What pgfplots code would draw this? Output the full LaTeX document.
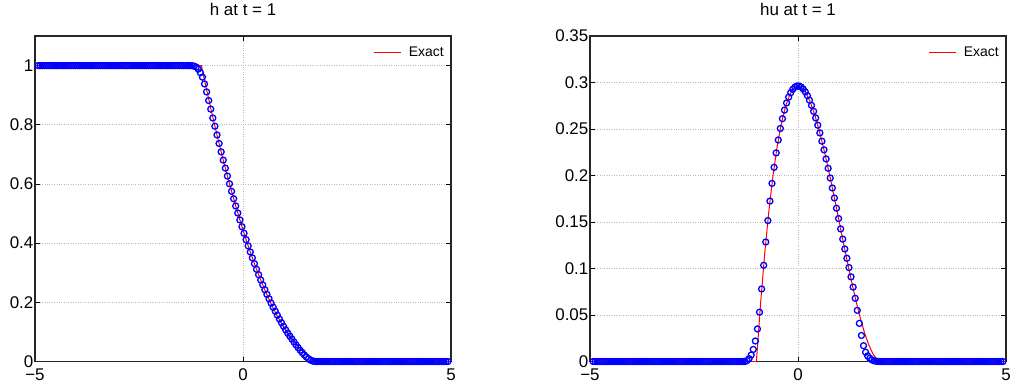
\documentclass[border=0pt]{standalone}
\usepackage{pgfplots}
\pgfplotsset{compat=1.18}
\usepackage{fontspec}
\setmainfont{Liberation Sans}

\pgfplotsset{
 myax/.style={
  scale only axis, width=416bp, height=325.5bp,
  anchor=south west,
  xmin=-5,xmax=5,ymin=0,
  xtick={-5,0,5}, xticklabels={−5,0,5},
  tick align=inside, major tick length=5bp,
  tick style={black, line width=0.6bp},
  axis line style={black!85, line width=1.2bp},
  grid=major, major grid style={gray!55, dotted, line width=0.8bp},
  ticklabel style={font=\fontsize{17}{20}\selectfont},
  xticklabel style={yshift=-4bp},
  yticklabel style={inner xsep=1.5bp},
  title style={at={(0.5,1)}, anchor=base, yshift=14.3bp, inner sep=0pt, font=\fontsize{17}{20}\selectfont},
  legend style={at={(1,1)}, anchor=north east, xshift=-7bp, yshift=-11bp, draw=none, fill=none,
     font=\fontsize{14}{16}\selectfont, inner sep=0pt, column sep=7bp, nodes={inner sep=0pt}},
  legend image code/.code={\draw[##1] (0bp,0bp) -- (27bp,0bp);},
 },
 numer/.style={only marks, mark=o, mark size=3bp, color=blue, mark options={line width=1.3bp}, forget plot},
 exact/.style={color=red, line width=1bp, no markers},
}

\begin{document}
\begin{tikzpicture}
\useasboundingbox (0bp,0bp) rectangle (1016bp,390bp);
% ---------------- h ----------------
\begin{axis}[myax, at={(35bp,28.5bp)}, ymax=1.1,
  ytick={0,0.2,0.4,0.6,0.8,1}, yticklabels={0,0.2,0.4,0.6,0.8,1},
  title={h at t = 1}]
\addplot[numer] coordinates {
(-4.925,1)(-4.875,1)(-4.825,1)(-4.775,1)(-4.725,1)(-4.675,1)(-4.625,1)(-4.575,1)(-4.525,1)(-4.475,1)
(-4.425,1)(-4.375,1)(-4.325,1)(-4.275,1)(-4.225,1)(-4.175,1)(-4.125,1)(-4.075,1)(-4.025,1)(-3.975,1)
(-3.925,1)(-3.875,1)(-3.825,1)(-3.775,1)(-3.725,1)(-3.675,1)(-3.625,1)(-3.575,1)(-3.525,1)(-3.475,1)
(-3.425,1)(-3.375,1)(-3.325,1)(-3.275,1)(-3.225,1)(-3.175,1)(-3.125,1)(-3.075,1)(-3.025,1)(-2.975,1)
(-2.925,1)(-2.875,1)(-2.825,1)(-2.775,1)(-2.725,1)(-2.675,1)(-2.625,1)(-2.575,1)(-2.525,1)(-2.475,1)
(-2.425,1)(-2.375,1)(-2.325,1)(-2.275,1)(-2.225,1)(-2.175,1)(-2.125,1)(-2.075,1)(-2.025,1)(-1.975,1)
(-1.925,1)(-1.875,1)(-1.825,1)(-1.775,1)(-1.725,1)(-1.675,1)(-1.625,1)(-1.575,1)(-1.525,1)(-1.475,1)
(-1.425,1)(-1.375,1)(-1.325,1)
(-1.275,0.9999)(-1.225,0.9995)(-1.175,0.998)(-1.125,0.995)(-1.075,0.988)(-1.025,0.976)
(-0.975,0.961)(-0.925,0.938)(-0.875,0.911)(-0.825,0.882)(-0.775,0.853)(-0.725,0.823)
(-0.675,0.7951)(-0.625,0.7656)(-0.575,0.7367)(-0.525,0.7084)(-0.475,0.6806)(-0.425,0.6534)
(-0.375,0.6267)(-0.325,0.6006)(-0.275,0.5751)(-0.225,0.5501)(-0.175,0.5256)(-0.125,0.5017)
(-0.075,0.4784)(-0.025,0.4556)(0.025,0.4334)(0.075,0.4117)(0.125,0.3906)(0.175,0.3701)
(0.225,0.3501)(0.275,0.3306)(0.325,0.3117)(0.375,0.2934)(0.425,0.2757)(0.475,0.2588)
(0.525,0.2425)(0.575,0.2270)(0.625,0.2120)(0.675,0.1975)(0.725,0.1835)(0.775,0.1700)
(0.825,0.1565)(0.875,0.1435)(0.925,0.131)(0.975,0.119)(1.025,0.107)(1.075,0.096)
(1.125,0.086)(1.175,0.076)(1.225,0.066)(1.275,0.056)(1.325,0.047)(1.375,0.038)
(1.425,0.030)(1.475,0.022)(1.525,0.015)(1.575,0.009)(1.625,0.0045)(1.675,0.0015)
(1.725,0.0004)(1.775,0.0001)
(1.825,0)(1.875,0)(1.925,0)(1.975,0)
(2.025,0)(2.075,0)(2.125,0)(2.175,0)(2.225,0)(2.275,0)(2.325,0)(2.375,0)(2.425,0)(2.475,0)
(2.525,0)(2.575,0)(2.625,0)(2.675,0)(2.725,0)(2.775,0)(2.825,0)(2.875,0)(2.925,0)(2.975,0)
(3.025,0)(3.075,0)(3.125,0)(3.175,0)(3.225,0)(3.275,0)(3.325,0)(3.375,0)(3.425,0)(3.475,0)
(3.525,0)(3.575,0)(3.625,0)(3.675,0)(3.725,0)(3.775,0)(3.825,0)(3.875,0)(3.925,0)(3.975,0)
(4.025,0)(4.075,0)(4.125,0)(4.175,0)(4.225,0)(4.275,0)(4.325,0)(4.375,0)(4.425,0)(4.475,0)
(4.525,0)(4.575,0)(4.625,0)(4.675,0)(4.725,0)(4.775,0)(4.825,0)(4.875,0)(4.925,0)
};
\addplot[exact] coordinates {
(-5,1)(-1,1)(-0.9,0.93444)(-0.8,0.87111)(-0.7,0.81)(-0.6,0.75111)(-0.5,0.69444)
(-0.4,0.64)(-0.3,0.58778)(-0.2,0.53778)(-0.1,0.49)(0,0.44444)(0.1,0.40111)(0.2,0.36)
(0.3,0.32111)(0.4,0.28444)(0.5,0.25)(0.6,0.21778)(0.7,0.18778)(0.8,0.16)(0.9,0.13444)
(1,0.11111)(1.1,0.09)(1.2,0.07111)(1.3,0.05444)(1.4,0.04)(1.5,0.02778)(1.6,0.01778)
(1.7,0.01)(1.8,0.00444)(1.9,0.00111)(2,0)(5,0)
};
\addlegendentry{Exact}
\end{axis}
% ---------------- hu ----------------
\begin{axis}[myax, at={(590bp,28.5bp)}, ymax=0.35,
  ytick={0,0.05,0.1,0.15,0.2,0.25,0.3,0.35},
  yticklabels={0,0.05,0.1,0.15,0.2,0.25,0.3,0.35},
  title={hu at t = 1}]
\addplot[numer] coordinates {
(-4.925,0)(-4.875,0)(-4.825,0)(-4.775,0)(-4.725,0)(-4.675,0)(-4.625,0)(-4.575,0)(-4.525,0)(-4.475,0)
(-4.425,0)(-4.375,0)(-4.325,0)(-4.275,0)(-4.225,0)(-4.175,0)(-4.125,0)(-4.075,0)(-4.025,0)(-3.975,0)
(-3.925,0)(-3.875,0)(-3.825,0)(-3.775,0)(-3.725,0)(-3.675,0)(-3.625,0)(-3.575,0)(-3.525,0)(-3.475,0)
(-3.425,0)(-3.375,0)(-3.325,0)(-3.275,0)(-3.225,0)(-3.175,0)(-3.125,0)(-3.075,0)(-3.025,0)(-2.975,0)
(-2.925,0)(-2.875,0)(-2.825,0)(-2.775,0)(-2.725,0)(-2.675,0)(-2.625,0)(-2.575,0)(-2.525,0)(-2.475,0)
(-2.425,0)(-2.375,0)(-2.325,0)(-2.275,0)(-2.225,0)(-2.175,0)(-2.125,0)(-2.075,0)(-2.025,0)(-1.975,0)
(-1.925,0)(-1.875,0)(-1.825,0)(-1.775,0)(-1.725,0)(-1.675,0)(-1.625,0)(-1.575,0)(-1.525,0)(-1.475,0)
(-1.425,0)(-1.375,0)(-1.325,0)(-1.275,0)
(-1.225,0.001)(-1.175,0.003)(-1.125,0.007)(-1.075,0.013)(-1.025,0.022)(-0.975,0.035)
(-0.925,0.053)(-0.875,0.078)(-0.825,0.1035)(-0.775,0.1285)(-0.725,0.1515)(-0.675,0.1725)
(-0.625,0.1915)(-0.575,0.2088)(-0.525,0.2243)(-0.475,0.2382)(-0.425,0.2505)(-0.375,0.2611)
(-0.325,0.2703)(-0.275,0.2780)(-0.225,0.2842)(-0.175,0.2891)(-0.125,0.2927)(-0.075,0.2950)
(-0.025,0.2962)(0.025,0.2962)(0.075,0.2951)(0.125,0.2930)(0.175,0.2899)(0.225,0.2859)
(0.275,0.2810)(0.325,0.2754)(0.375,0.2690)(0.425,0.2619)(0.475,0.2541)(0.525,0.2458)
(0.575,0.2369)(0.625,0.2276)(0.675,0.2178)(0.725,0.2077)(0.775,0.1973)(0.825,0.1866)
(0.875,0.1758)(0.925,0.1648)(0.975,0.1537)(1.025,0.1426)(1.075,0.1316)(1.125,0.121)
(1.175,0.111)(1.225,0.101)(1.275,0.091)(1.325,0.080)(1.375,0.068)(1.425,0.055)
(1.475,0.041)(1.525,0.028)(1.575,0.017)(1.625,0.010)(1.675,0.006)(1.725,0.0035)
(1.775,0.0018)(1.825,0.0008)(1.875,0.0003)(1.925,0.0001)
(1.975,0)
(2.025,0)(2.075,0)(2.125,0)(2.175,0)(2.225,0)(2.275,0)(2.325,0)(2.375,0)(2.425,0)(2.475,0)
(2.525,0)(2.575,0)(2.625,0)(2.675,0)(2.725,0)(2.775,0)(2.825,0)(2.875,0)(2.925,0)(2.975,0)
(3.025,0)(3.075,0)(3.125,0)(3.175,0)(3.225,0)(3.275,0)(3.325,0)(3.375,0)(3.425,0)(3.475,0)
(3.525,0)(3.575,0)(3.625,0)(3.675,0)(3.725,0)(3.775,0)(3.825,0)(3.875,0)(3.925,0)(3.975,0)
(4.025,0)(4.075,0)(4.125,0)(4.175,0)(4.225,0)(4.275,0)(4.325,0)(4.375,0)(4.425,0)(4.475,0)
(4.525,0)(4.575,0)(4.625,0)(4.675,0)(4.725,0)(4.775,0)(4.825,0)(4.875,0)(4.925,0)
};
\addplot[exact] coordinates {
(-5,0)(-1,0)(-0.9,0.062296)(-0.8,0.116148)(-0.7,0.162)(-0.6,0.200296)(-0.5,0.231481)
(-0.4,0.256)(-0.3,0.274296)(-0.2,0.286815)(-0.1,0.294)(0,0.296296)(0.1,0.294148)
(0.2,0.288)(0.3,0.278296)(0.4,0.265481)(0.5,0.25)(0.6,0.232296)(0.7,0.212815)
(0.8,0.192)(0.9,0.170296)(1,0.148148)(1.1,0.126)(1.2,0.104296)(1.3,0.083481)
(1.4,0.064)(1.5,0.046296)(1.6,0.030815)(1.7,0.018)(1.8,0.008296)(1.9,0.002148)
(2,0)(5,0)
};
\addlegendentry{Exact}
\end{axis}
\end{tikzpicture}
\end{document}
